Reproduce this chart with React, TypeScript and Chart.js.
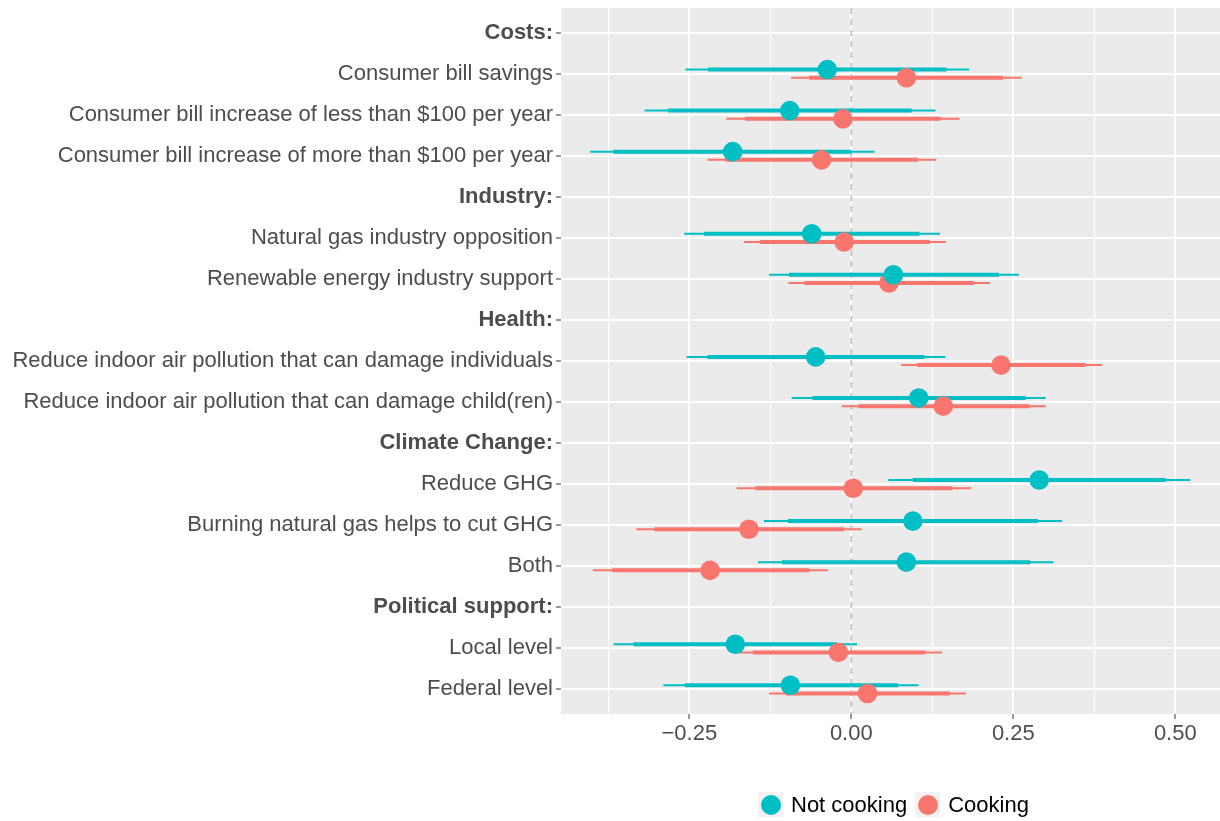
import React, { useEffect, useRef } from "react";
import { Chart, registerables } from "chart.js";

Chart.register(...registerables);

// ---- rows (top to bottom); group headers carry no estimates ----
const rowLabels = [
  "Costs:",
  "Consumer bill savings",
  "Consumer bill increase of less than $100 per year",
  "Consumer bill increase of more than $100 per year",
  "Industry:",
  "Natural gas industry opposition",
  "Renewable energy industry support",
  "Health:",
  "Reduce indoor air pollution that can damage individuals",
  "Reduce indoor air pollution that can damage child(ren)",
  "Climate Change:",
  "Reduce GHG",
  "Burning natural gas helps to cut GHG",
  "Both",
  "Political support:",
  "Local level",
  "Federal level",
];
const headerRows = [0, 4, 7, 10, 14];

// ---- Not cooking: estimate, inner (thick) and outer (thin) intervals ----
const notCookingEst = [null, -0.037, -0.095, -0.183, null, -0.061, 0.065, null, -0.055, 0.104, null, 0.29, 0.095, 0.085, null, -0.179, -0.094];
const notCookingLoInner = [null, -0.221, -0.283, -0.367, null, -0.227, -0.096, null, -0.222, -0.06, null, 0.095, -0.098, -0.107, null, -0.336, -0.257];
const notCookingHiInner = [null, 0.147, 0.093, 0.0, null, 0.105, 0.228, null, 0.113, 0.269, null, 0.485, 0.288, 0.276, null, -0.022, 0.072];
const notCookingLoOuter = [null, -0.256, -0.319, -0.403, null, -0.258, -0.127, null, -0.254, -0.092, null, 0.057, -0.135, -0.144, null, -0.367, -0.29];
const notCookingHiOuter = [null, 0.182, 0.13, 0.036, null, 0.137, 0.259, null, 0.145, 0.3, null, 0.523, 0.325, 0.312, null, 0.009, 0.104];

// ---- Cooking ----
const cookingEst = [null, 0.085, -0.013, -0.046, null, -0.011, 0.058, null, 0.231, 0.142, null, 0.003, -0.158, -0.218, null, -0.02, 0.025];
const cookingLoInner = [null, -0.065, -0.164, -0.194, null, -0.141, -0.072, null, 0.102, 0.011, null, -0.148, -0.304, -0.369, null, -0.152, -0.101];
const cookingHiInner = [null, 0.234, 0.138, 0.103, null, 0.121, 0.189, null, 0.361, 0.275, null, 0.156, -0.011, -0.065, null, 0.114, 0.152];
const cookingLoOuter = [null, -0.093, -0.193, -0.222, null, -0.166, -0.097, null, 0.077, -0.015, null, -0.177, -0.332, -0.399, null, -0.178, -0.127];
const cookingHiOuter = [null, 0.263, 0.167, 0.131, null, 0.146, 0.214, null, 0.387, 0.3, null, 0.185, 0.016, -0.036, null, 0.14, 0.177];

// ---- x axis ticks ----
const xMajorTicks = [-0.25, 0, 0.25, 0.5];
const xMajorLabels = ["\u22120.25", "0.00", "0.25", "0.50"];
const xMinorTicks = [-0.375, -0.125, 0.125, 0.375];
const xMin = -0.448;
const xMax = 0.569;

const TEAL = "#00BFC4";
const SALMON = "#F8766D";
const FONT = "'Liberation Sans', Arial, Helvetica, sans-serif";
const DODGE = 0.1;

type Pt = { x: number; y: number };

function pointData(est: (number | null)[], offset: number): Pt[] {
  const out: Pt[] = [];
  est.forEach((v, i) => {
    if (v !== null) out.push({ x: v, y: i + offset });
  });
  return out;
}

// segments separated by a NaN point so the line breaks between rows
function rangeData(lo: (number | null)[], hi: (number | null)[], offset: number): Pt[] {
  const out: Pt[] = [];
  lo.forEach((l, i) => {
    const h = hi[i];
    if (l === null || h === null) return;
    out.push({ x: l, y: i + offset }, { x: h, y: i + offset }, { x: NaN, y: NaN });
  });
  return out;
}

const panelBackground = {
  id: "panelBackground",
  beforeDraw(chart: any) {
    const { ctx, chartArea } = chart;
    ctx.save();
    ctx.fillStyle = "#EBEBEB";
    ctx.fillRect(chartArea.left, chartArea.top, chartArea.right - chartArea.left, chartArea.bottom - chartArea.top);
    ctx.restore();
  },
};

const zeroLine = {
  id: "zeroLine",
  beforeDatasetsDraw(chart: any) {
    const { ctx, chartArea, scales } = chart;
    const x = scales.x.getPixelForValue(0);
    ctx.save();
    ctx.strokeStyle = "#BDBDBD";
    ctx.lineWidth = 1.5;
    ctx.setLineDash([6, 5]);
    ctx.beginPath();
    ctx.moveTo(x, chartArea.top);
    ctx.lineTo(x, chartArea.bottom);
    ctx.stroke();
    ctx.restore();
  },
};

function Key({ color }: { color: string }) {
  return (
    <span
      style={{
        width: 25,
        height: 25,
        background: "#F2F2F2",
        display: "inline-flex",
        alignItems: "center",
        justifyContent: "center",
      }}
    >
      <span style={{ width: 20, height: 20, borderRadius: "50%", background: color, display: "block" }} />
    </span>
  );
}

export default function App() {
  const canvasRef = useRef<HTMLCanvasElement>(null);

  useEffect(() => {
    const canvas = canvasRef.current;
    if (!canvas) return;

    const rangeLine = (data: Pt[], color: string, width: number, order: number) => ({
      type: "scatter" as const,
      data,
      showLine: true,
      borderColor: color,
      backgroundColor: color,
      borderWidth: width,
      borderCapStyle: "butt" as const,
      pointRadius: 0,
      pointHoverRadius: 0,
      spanGaps: false,
      order,
    });

    const points = (label: string, data: Pt[], color: string, order: number) => ({
      type: "scatter" as const,
      label,
      data,
      showLine: false,
      pointRadius: 9.8,
      pointHoverRadius: 9.8,
      pointBackgroundColor: color,
      backgroundColor: color,
      borderWidth: 0,
      pointBorderWidth: 0,
      order,
    });

    const chart = new Chart(canvas, {
      type: "scatter",
      data: {
        datasets: [
          points("Not cooking", pointData(notCookingEst, -DODGE), TEAL, 0),
          points("Cooking", pointData(cookingEst, DODGE), SALMON, 1),
          rangeLine(rangeData(notCookingLoInner, notCookingHiInner, -DODGE), TEAL, 4, 2),
          rangeLine(rangeData(cookingLoInner, cookingHiInner, DODGE), SALMON, 4, 3),
          rangeLine(rangeData(notCookingLoOuter, notCookingHiOuter, -DODGE), TEAL, 2, 4),
          rangeLine(rangeData(cookingLoOuter, cookingHiOuter, DODGE), SALMON, 2, 5),
        ] as any,
      },
      options: {
        responsive: false,
        animation: false,
        events: [],
        layout: { autoPadding: false, padding: { top: 8, right: 0, bottom: 0, left: 0 } },
        plugins: { legend: { display: false }, tooltip: { enabled: false }, title: { display: false } },
        scales: {
          x: {
            type: "linear",
            min: xMin,
            max: xMax,
            border: { display: false },
            afterBuildTicks: (s: any) => {
              s.ticks = [...xMinorTicks, ...xMajorTicks].sort((a, b) => a - b).map((v) => ({ value: v }));
            },
            afterFit: (s: any) => {
              s.height = 107;
              s.paddingLeft = 0;
              s.paddingRight = 0;
            },
            grid: {
              color: "#FFFFFF",
              lineWidth: (c: any) => (xMajorTicks.includes(c.tick?.value) ? 2 : 1),
              tickColor: (c: any) => (xMajorTicks.includes(c.tick?.value) ? "#333333" : "rgba(0,0,0,0)"),
              tickLength: 5,
              tickWidth: 1,
            },
            ticks: {
              autoSkip: false,
              maxRotation: 0,
              padding: 2,
              color: "#4D4D4D",
              font: { family: FONT, size: 22 },
              callback: (v: any) => {
                const i = xMajorTicks.indexOf(Number(v));
                return i >= 0 ? xMajorLabels[i] : "";
              },
            },
          },
          y: {
            type: "linear",
            reverse: true,
            min: -0.6,
            max: rowLabels.length - 1 + 0.6,
            border: { display: false },
            afterBuildTicks: (s: any) => {
              s.ticks = rowLabels.map((_, i) => ({ value: i }));
            },
            afterFit: (s: any) => {
              s.width = 561;
              s.paddingTop = 0;
              s.paddingBottom = 0;
            },
            grid: {
              color: "#FFFFFF",
              lineWidth: 2,
              tickColor: "#333333",
              tickLength: 5,
              tickWidth: 1,
            },
            ticks: {
              autoSkip: false,
              padding: 3,
              color: "#4D4D4D",
              font: (c: any) => ({
                family: FONT,
                size: 22,
                weight: headerRows.includes(c.tick?.value) ? "bold" : "normal",
              }),
              callback: (v: any) => rowLabels[Number(v)] ?? "",
            },
          },
        },
      },
      plugins: [panelBackground, zeroLine],
    } as any);

    return () => chart.destroy();
  }, []);

  return (
    <div style={{ position: "fixed", left: 0, top: 0, width: 1220, height: 821, background: "#FFFFFF" }}>
      <canvas ref={canvasRef} width={1220} height={821} style={{ display: "block" }} />
      <div
        style={{
          position: "absolute",
          left: 758,
          top: 792,
          height: 25,
          display: "flex",
          alignItems: "center",
          fontFamily: FONT,
          fontSize: 22,
          color: "#000000",
          whiteSpace: "nowrap",
        }}
      >
        <Key color={TEAL} />
        <span style={{ marginLeft: 8, marginRight: 8 }}>Not cooking</span>
        <Key color={SALMON} />
        <span style={{ marginLeft: 8 }}>Cooking</span>
      </div>
    </div>
  );
}
